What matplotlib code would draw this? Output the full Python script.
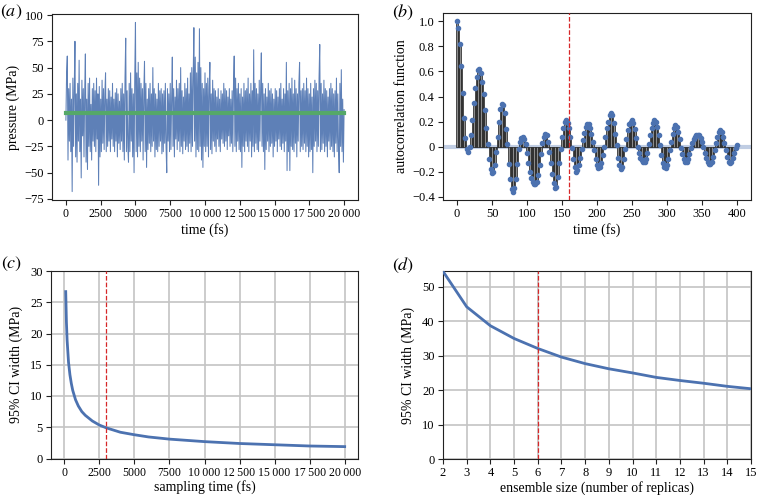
import numpy as np
import matplotlib
matplotlib.use("Agg")
import matplotlib.pyplot as plt
from matplotlib.ticker import FuncFormatter

plt.rcParams['font.family'] = ['Liberation Serif', 'DejaVu Serif']
plt.rcParams['mathtext.fontset'] = 'stix'
plt.rcParams['axes.unicode_minus'] = True

# ---------------- data ----------------
# (a) pressure time series, one value every 50 fs
pressure_dt = 50
pressure = [
    0, 45, 61, -38, 30, -20, 35, -30, 20, -68, 40, -25, 30, 75, -35, 25, -40, 35, -20, 57,
    -30, 20, -55, 38, -15, 30, -35, 25, 63, -40, 20, -47, 35, -25, 40, -30, 15, -38, 30, -20,
    35, -25, 28, -30, 40, -18, 25, -62, 32, -35, 20, -30, 38, -22, 30, -28, 25, 45, -30, 20,
    -25, 30, -20, 28, -30, 22, -18, 35, -25, 20, -30, 26, -20, 30, -35, 25, -22, 18, -28, 30,
    -20, 35, -30, 25, -38, 40, 78, -30, 28, -25, -40, 35, -30, 45, -20, 30, -35, 25, -50, 40,
    93, -30, 45, -35, 55, -25, 40, -30, 35, -20, 30, -38, 25, 56, -30, 35, -45, 20, -28, 30,
    -22, 35, -30, 25, -25, 50, -20, 30, -35, 25, -28, 20, -30, 35, -25, 28, -20, 30, -32, 25,
    -30, 28, -22, 35, -25, -50, 30, -20, 25, -30, 35, -28, 20, 60, -25, 30, -35, 22, -18, 38,
    -28, 30, -20, 35, -30, 50, -25, 28, -32, 22, -20, 35, -28, 30, -25, 40, -30, 25, -22, 45,
    -30, 50, -25, 40, 88, -20, 60, -35, 45, -28, 55, -30, 87, -25, 50, -38, 35, -45, 30, -25,
    45, -30, 35, -25, 40, -35, 30, 55, -28, 25, -32, 38, -20, 30, -25, 28, -30, 22, -18, 30,
    -25, 20, -30, 28, -18, 25, -22, 35, -25, 30, -20, 28, -28, 22, -15, 30, -25, 20, -22, 28,
    -30, 35, 61, -25, 40, -30, 30, -20, 35, -28, 25, -30, 30, -45, 22, -25, 35, -30, 28, -20,
    30, -25, 40, -30, 25, -20, 35, -35, 28, -25, 67, -30, 35, -22, 30, -28, 25, -30, 38, -20,
    30, 64, -25, 35, -30, 25, -47, 30, -28, 22, -20, 35, -30, 28, -25, 30, -22, 25, -35, 20,
    -25, 30, -20, 28, -30, 22, -18, 30, -25, 35, -28, 20, -22, 30, -30, 25, -20, 55, -48, 28,
    -30, 35, -48, 30, -25, 40, -28, 25, -30, 38, -22, 30, -35, 25, -20, 35, 55, -30, 28, -25,
    30, -28, 35, -22, 28, -30, 40, -25, 30, -35, 25, -30, 35, -28, 22, -50, 30, -25, 38, -20,
    35, -30, 28, -25, 40, 72, -30, 35, -28, 25, -22, 38, -30, 30, -25, 28, -35, 22, -20, 30,
    -28, 35, -25, 30, -30, 25, -35, 28, -22, 40, -30, 25, -28, -50, 35, -25, 48, -30, 20, -40,
    10,
]
pressure_mean = 7.0

# (b) autocorrelation function, one value every 2 fs
acf_dt = 2
acf = [
    1.00, 0.95, 0.82, 0.64, 0.43, 0.23, 0.07, -0.02, -0.04, 0.00,
    0.09, 0.21, 0.35, 0.47, 0.56, 0.61, 0.62, 0.59, 0.52, 0.42,
    0.29, 0.15, 0.02, -0.10, -0.18, -0.21, -0.20, -0.15, -0.04, 0.08,
    0.20, 0.30, 0.34, 0.33, 0.27, 0.14, 0.02, -0.14, -0.26, -0.34,
    -0.36, -0.33, -0.26, -0.14, -0.02, 0.04, 0.07, 0.08, 0.06, 0.02,
    -0.05, -0.13, -0.20, -0.25, -0.28, -0.30, -0.30, -0.28, -0.23, -0.15,
    -0.06, 0.03, 0.08, 0.10, 0.09, 0.04, -0.04, -0.13, -0.22, -0.29,
    -0.33, -0.32, -0.24, -0.13, -0.02, 0.08, 0.15, 0.20, 0.21, 0.19,
    0.15, 0.08, -0.01, -0.10, -0.16, -0.20, -0.19, -0.15, -0.09, -0.02,
    0.05, 0.11, 0.16, 0.18, 0.18, 0.15, 0.10, 0.04, -0.03, -0.10,
    -0.15, -0.17, -0.16, -0.13, -0.07, 0.00, 0.08, 0.15, 0.20, 0.25,
    0.27, 0.25, 0.19, 0.10, 0.01, -0.09, -0.15, -0.18, -0.16, -0.10,
    -0.02, 0.06, 0.13, 0.18, 0.20, 0.21, 0.19, 0.14, 0.07, 0.00,
    -0.05, -0.09, -0.11, -0.12, -0.12, -0.10, -0.05, 0.02, 0.09, 0.15,
    0.19, 0.21, 0.20, 0.16, 0.09, 0.01, -0.07, -0.13, -0.16, -0.17,
    -0.15, -0.10, -0.03, 0.04, 0.10, 0.15, 0.17, 0.16, 0.12, 0.06,
    -0.01, -0.06, -0.10, -0.12, -0.12, -0.10, -0.06, -0.01, 0.03, 0.06,
    0.08, 0.09, 0.09, 0.09, 0.07, 0.04, 0.00, -0.05, -0.09, -0.12,
    -0.14, -0.14, -0.12, -0.08, -0.03, 0.03, 0.08, 0.12, 0.13, 0.12,
    0.08, 0.03, -0.03, -0.08, -0.12, -0.13, -0.12, -0.09, -0.05, -0.01,
    0.01,
]
acf_cutoff = 160

# (c) CI width vs sampling time
sampling_time = [100, 150, 200, 300, 400, 500, 600, 800, 1000, 1250, 1500, 2000,
                 2500, 3000, 4000, 5000, 6000, 7500, 10000, 12500, 15000, 17500, 20000]
ci_width_time = [26.7, 21.8, 18.9, 15.4, 13.4, 12.0, 10.9, 9.4, 8.4, 7.5, 6.9, 6.0,
                 5.35, 4.9, 4.2, 3.8, 3.45, 3.1, 2.7, 2.4, 2.2, 2.0, 1.9]
sampling_cutoff = 3000

# (d) CI width vs ensemble size
ensemble_size = [2, 3, 4, 5, 6, 7, 8, 9, 10, 11, 12, 13, 14, 15]
ci_width_ens = [54.5, 44.2, 38.7, 35.0, 32.1, 29.6, 27.7, 26.2, 25.0, 23.7, 22.8, 22.0, 21.1, 20.4]
ensemble_cutoff = 6

x_ticks_long = [0, 2500, 5000, 7500, 10000, 12500, 15000, 17500, 20000]
x_tick_labels_long = ['0', '2500', '5000', '7500', '10\u2009000', '12\u2009500',
                      '15\u2009000', '17\u2009500', '20\u2009000']

# ---------------- style ----------------
BLUE = '#4c72b0'
GREEN = '#55a868'
RED = '#d62728'
SPINE = '#222222'
FS_TICK = 9
FS_TICK_LONG = 8.5
FS_LAB = 10

W, H = 757, 495
fig = plt.figure(figsize=(W / 100, H / 100), dpi=100)


def add_axes(l, t, r, b):
    return fig.add_axes([l / W, 1 - b / H, (r - l) / W, (b - t) / H])


def style(ax):
    for s in ax.spines.values():
        s.set_color(SPINE)
        s.set_linewidth(0.8)
    ax.tick_params(direction='out', length=3.5, width=0.8, labelsize=FS_TICK, pad=2.5,
                   colors=SPINE, labelcolor='black', top=False, right=False)


def minus_fmt(v, pos):
    if abs(v) < 1e-9:
        return '0'
    s = '%g' % v
    return s.replace('-', '\u2212')


def minus_fmt1(v, pos):
    if abs(v) < 1e-9:
        return '0'
    return ('%.1f' % v).replace('-', '\u2212')


# (a)
axa = add_axes(52, 14, 358, 200)
t_p = np.arange(len(pressure)) * pressure_dt
axa.plot(t_p, pressure, color=BLUE, lw=0.75, alpha=0.9)
axa.plot([t_p[0], t_p[-1]], [pressure_mean, pressure_mean], color=GREEN, lw=3)
axa.set_xlim(-1000, 21000)
axa.set_ylim(-76, 101)
axa.set_yticks([-75, -50, -25, 0, 25, 50, 75, 100])
axa.yaxis.set_major_formatter(FuncFormatter(minus_fmt))
axa.set_xticks(x_ticks_long)
axa.set_xticklabels(x_tick_labels_long)
axa.set_xlabel('time (fs)', fontsize=FS_LAB, labelpad=2)
axa.set_ylabel('pressure (MPa)', fontsize=FS_LAB, labelpad=3)
style(axa)
axa.tick_params(axis='x', labelsize=FS_TICK_LONG)

# (b)
axb = add_axes(443, 13, 751, 200)
t_a = np.arange(len(acf)) * acf_dt
axb.axhline(0, color=BLUE, alpha=0.35, lw=3, zorder=1)
axb.bar(t_a, acf, width=acf_dt, color='#8c8c8c', edgecolor='#1a1a1a', linewidth=0.5, zorder=2)
axb.plot(t_a, acf, 'o', color=BLUE, ms=3, zorder=3)
axb.axvline(acf_cutoff, color=RED, ls='--', lw=0.9, zorder=4)
axb.set_xlim(-20, 420)
axb.set_ylim(-0.426, 1.067)
axb.set_xticks([0, 50, 100, 150, 200, 250, 300, 350, 400])
axb.set_yticks([-0.4, -0.2, 0, 0.2, 0.4, 0.6, 0.8, 1.0])
axb.yaxis.set_major_formatter(FuncFormatter(minus_fmt1))
axb.set_xlabel('time (fs)', fontsize=FS_LAB, labelpad=2)
axb.set_ylabel('autocorrelation function', fontsize=FS_LAB, labelpad=3)
style(axb)

# (c)
axc = add_axes(51, 271, 358, 458.5)
axc.grid(True, color='#c4c4c4', lw=1.2)
axc.set_axisbelow(True)
axc.plot(sampling_time, ci_width_time, color=BLUE, lw=2, zorder=3)
axc.axvline(sampling_cutoff, color=RED, ls='--', lw=0.9, zorder=4)
axc.set_xlim(-950, 20950)
axc.set_ylim(0, 30)
axc.set_xticks(x_ticks_long)
axc.set_xticklabels(x_tick_labels_long)
axc.set_yticks([0, 5, 10, 15, 20, 25, 30])
axc.set_xlabel('sampling time (fs)', fontsize=FS_LAB, labelpad=1)
axc.set_ylabel('95% CI width (MPa)', fontsize=FS_LAB, labelpad=5)
style(axc)
axc.tick_params(axis='x', labelsize=FS_TICK_LONG)

# (d)
axd = add_axes(443, 271, 751, 459)
axd.grid(True, color='#c4c4c4', lw=1.2)
axd.set_axisbelow(True)
axd.plot(ensemble_size, ci_width_ens, color=BLUE, lw=2, zorder=3)
axd.axvline(ensemble_cutoff, color=RED, ls='--', lw=0.9, zorder=4)
axd.set_xlim(2, 15)
axd.set_ylim(0, 54.6)
axd.set_xticks(ensemble_size)
axd.set_yticks([0, 10, 20, 30, 40, 50])
axd.set_xlabel('ensemble size (number of replicas)', fontsize=FS_LAB, labelpad=1)
axd.set_ylabel('95% CI width (MPa)', fontsize=FS_LAB, labelpad=5)
style(axd)

# panel letters
for lab, x, y in [('a', 11, 12), ('b', 403, 12), ('c', 12, 264), ('d', 403, 265)]:
    fig.text(x / W, 1 - y / H, r'$(%s)$' % lab, fontsize=13, ha='center', va='center')

fig.savefig('out.png', dpi=100)
